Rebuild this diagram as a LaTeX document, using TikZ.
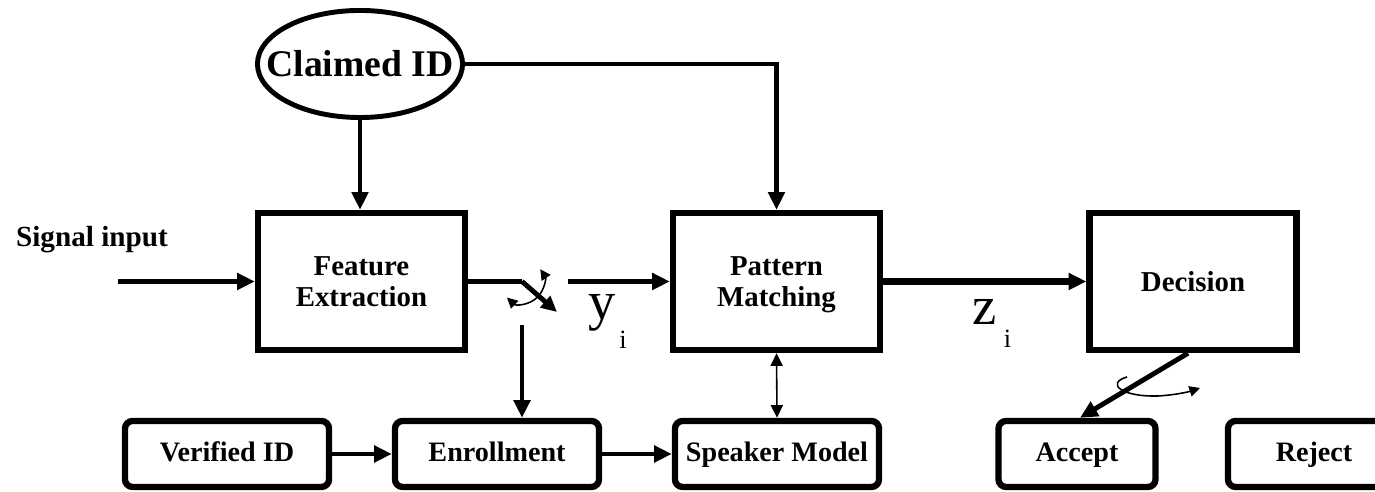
\documentclass[tikz,border=0pt]{standalone}
\usepackage{fontspec}
\setmainfont{Liberation Serif}
\usetikzlibrary{arrows.meta, positioning, shapes.geometric, calc}

\begin{document}
\begin{tikzpicture}[
  x=0.01cm, y=-0.01cm,
  >={Triangle[length=5pt,width=4.6pt]},
  % Node styles
  block/.style={draw, line width=1.8pt, minimum width=2.07cm, minimum height=1.37cm,
    inner sep=0pt, text depth=0pt, align=center, font=\fontsize{8.2}{8.8}\selectfont\bfseries},
  store/.style={draw, line width=1.8pt, rounded corners=2.2pt, minimum width=2.04cm,
    minimum height=0.66cm, inner sep=0pt, text height=6pt, text depth=1.8pt,
    font=\fontsize{8}{9}\selectfont\bfseries},
  idnode/.style={ellipse, draw, line width=1.4pt, minimum width=2.05cm, minimum height=1.07cm,
    inner xsep=-6pt, inner ysep=4pt, font=\fontsize{10.7}{12}\selectfont\bfseries},
  sublabel/.style={anchor=base west, inner sep=0pt, font=\fontsize{15.5}{16}\selectfont},
  % Edge styles
  flow/.style={line width=1.4pt, ->},
  heavyflow/.style={line width=2pt, ->},
  idline/.style={line width=1.2pt},
  thinflow/.style={line width=0.45pt, {Triangle[length=3.6pt,width=3.4pt]}-{Triangle[length=3.6pt,width=3.4pt]}},
  turn/.style={line width=0.45pt}
]

\useasboundingbox (0,0) rectangle (1375,492);

% ------------------------------------------------------------
% Upper row: claimed identity and processing chain
% ------------------------------------------------------------
\node[idnode] (cid) at (360,64) {Claimed ID};

\node[font=\fontsize{8.3}{9}\selectfont\bfseries] (sig) at (92,240) {Signal input};
\coordinate (sigin) at (118,281.5);

\node[block] (fe)  at (361.5,281.5) {Feature\\Extraction};
\node[block] (pm)  at (776.5,281.5) {Pattern\\Matching};
\node[block] (dec) at (1193,281.5)  {Decision};

% ------------------------------------------------------------
% Lower row: enrollment path and outcomes
% ------------------------------------------------------------
\node[store] (vid) at (227,454) {Verified ID};
\node[store] (enr) at (497,454) {Enrollment};
\node[store] (spk) at (777,454) {Speaker Model};
\node[store, minimum width=1.57cm] (acc) at (1077,454) {Accept};
\node[store, minimum width=1.72cm] (rej) at (1314,454) {Reject};

% ------------------------------------------------------------
% Connections
% ------------------------------------------------------------
\draw[flow] (sigin) -- (fe.west);
\draw[idline, ->] (cid.south) -- (cid.south |- fe.north);
\draw[idline, ->] (cid.east) -| (pm.north);

% switch between enrollment and matching
\coordinate (sw)    at (522,281.5);
\coordinate (swend) at (557,312);
\coordinate (yin)   at (568,281.5);
\coordinate (tap)   at (522,325);
\draw[flow, -] (fe.east) -- (sw);
\draw[line width=1.4pt, -{Triangle[length=4.5pt,width=4.2pt]}] (sw) -- (swend);
\draw[turn, {Triangle[length=3pt,width=3pt]}-{Triangle[length=3pt,width=3pt]}]
  ($(sw)+(133:22)$) arc[start angle=133, end angle=-34, radius=22];
\draw[flow] (yin) -- (pm.west);
\draw[flow] (tap) -- (tap |- enr.north);

\node[sublabel] (ylab) at (588,320) {y\kern1pt\raisebox{-8pt}{\fontsize{7.5}{8}\selectfont i}};
\node[sublabel] (zlab) at (972,325) {z\kern2pt\raisebox{-6.5pt}{\fontsize{7.5}{8}\selectfont i}};

\draw[heavyflow] (pm.east) -- (dec.west);
\draw[thinflow] (pm.south) -- (spk.north);

\draw[flow] (vid.east) -- (enr.west);
\draw[flow] (enr.east) -- (spk.west);

% decision switch towards the outcomes
\draw[flow] ($(dec.south)+(-5,0)$) -- ($(acc.north)+(3,0)$);
\draw[turn, -{Triangle[length=3pt,width=3pt]}] (1127,377)
  .. controls (1106,383) and (1120,397) .. (1158,396)
  .. controls (1175,395) and (1188,392) .. (1200,388);

\end{tikzpicture}
\end{document}
